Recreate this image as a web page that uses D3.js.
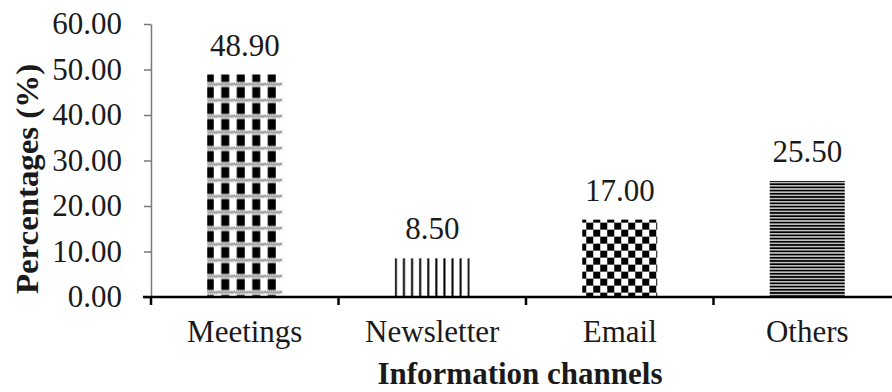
<!DOCTYPE html>
<html>
<head>
<meta charset="utf-8">
<script src="https://cdn.jsdelivr.net/npm/d3@7"></script>
<style>
  body { margin: 0; background: #fff; }
  svg text { font-family: "Liberation Serif", Tinos, "DejaVu Serif", Times, serif; fill: #1a1a1a; }
</style>
</head>
<body>
<div id="chart"></div>
<script>
// data
var categories = ["Meetings", "Newsletter", "Email", "Others"];
var values = [48.90, 8.50, 17.00, 25.50];
var patternNames = ["meet", "news", "mail", "other"];
var yTicks = [0, 10, 20, 30, 40, 50, 60];

var W = 892, H = 392;
var margin = {top: 24, right: -9, bottom: 95, left: 151},
    width = W - margin.left - margin.right,
    height = H - margin.top - margin.bottom;

var svg = d3.select("#chart")
  .append("svg")
    .attr("width", W)
    .attr("height", H)
  .append("g")
    .attr("transform", "translate(" + margin.left + "," + margin.top + ")");

var x = d3.scaleBand()
  .domain(categories)
  .range([0, width])
  .paddingInner(0.6)
  .paddingOuter(0.3);

var y = d3.scaleLinear()
  .domain([0, 60])
  .range([height, 0]);

var data = categories.map(function(c, i) { return {cat: c, value: values[i], pat: patternNames[i]}; });

// fill patterns, anchored to each bar
var defs = svg.append("defs");
data.forEach(function(d) {
  var bx = x(d.cat) + margin.left, by = y(d.value) + margin.top;
  var p = defs.append("pattern")
    .attr("id", "p-" + d.pat)
    .attr("patternUnits", "userSpaceOnUse")
    .attr("x", bx).attr("y", by);
  if (d.pat == "meet") {
    p.attr("width", 15.5).attr("height", 16);
    p.append("rect").attr("width", 15.5).attr("height", 16).attr("fill", "#fff");
    for (var k = 0; k < 8; k++) {
      p.append("rect").attr("x", k * 2).attr("y", 0.5).attr("width", 1.2).attr("height", 1.3).attr("fill", "#444");
      p.append("rect").attr("x", k * 2 + 1).attr("y", 2).attr("width", 1.2).attr("height", 1.3).attr("fill", "#666");
    }
    p.append("rect").attr("x", 2.5).attr("y", 4.5).attr("width", 8).attr("height", 11).attr("fill", "#000");
  } else if (d.pat == "news") {
    p.attr("width", 8.1).attr("height", 10);
    p.append("rect").attr("width", 8.1).attr("height", 10).attr("fill", "#fff");
    p.append("rect").attr("x", 3).attr("y", 0).attr("width", 2).attr("height", 10).attr("fill", "#000");
  } else if (d.pat == "mail") {
    p.attr("width", 14).attr("height", 14);
    p.append("rect").attr("width", 14).attr("height", 14).attr("fill", "#fff");
    p.append("rect").attr("x", 0).attr("y", 0).attr("width", 7).attr("height", 7).attr("fill", "#000");
    p.append("rect").attr("x", 7).attr("y", 7).attr("width", 7).attr("height", 7).attr("fill", "#000");
  } else {
    p.attr("width", 10).attr("height", 3.2);
    p.append("rect").attr("width", 10).attr("height", 3.2).attr("fill", "#fff");
    p.append("rect").attr("x", 0).attr("y", 0.6).attr("width", 10).attr("height", 2).attr("fill", "#000");
  }
});

// bars
svg.selectAll(".bar")
  .data(data)
  .enter()
  .append("rect")
    .attr("class", "bar")
    .attr("x", function(d) { return x(d.cat); })
    .attr("y", function(d) { return y(d.value); })
    .attr("width", x.bandwidth())
    .attr("height", function(d) { return height - y(d.value); })
    .attr("fill", function(d) { return "url(#p-" + d.pat + ")"; });

// value labels
svg.selectAll(".val")
  .data(data)
  .enter()
  .append("text")
    .attr("class", "val")
    .attr("x", function(d) { return x(d.cat) + x.bandwidth() / 2; })
    .attr("y", function(d) { return y(d.value) - 19; })
    .attr("text-anchor", "middle")
    .style("font-size", "31px")
    .text(function(d) { return d.value.toFixed(2); });

// Y axis (grey)
var yAxis = svg.append("g")
  .call(d3.axisLeft(y).tickValues(yTicks).tickSize(7).tickSizeOuter(0).tickPadding(22)
    .tickFormat(d3.format(".2f")));
yAxis.attr("font-family", null);
yAxis.select(".domain").attr("stroke", "#777").attr("stroke-width", 1.5);
yAxis.selectAll(".tick line").attr("stroke", "#777").attr("stroke-width", 1.5);
yAxis.selectAll(".tick text")
  .style("font-size", "31px")
  .attr("fill", "#1a1a1a");

// X axis (black, ticks between categories)
var step = x.step();
var bounds = categories.map(function(c) { return x(c) + x.bandwidth() / 2 - step / 2; });
bounds.push(x(categories[categories.length - 1]) + x.bandwidth() / 2 + step / 2);

var xAxis = svg.append("g")
  .attr("transform", "translate(0," + height + ")");
xAxis.append("line")
  .attr("x1", -8).attr("x2", width)
  .attr("stroke", "#000").attr("stroke-width", 2.5);
xAxis.selectAll(".xt")
  .data(bounds)
  .enter()
  .append("line")
    .attr("x1", function(d) { return d; })
    .attr("x2", function(d) { return d; })
    .attr("y1", 0).attr("y2", 8)
    .attr("stroke", "#000").attr("stroke-width", 2.5);
xAxis.selectAll(".cat")
  .data(categories)
  .enter()
  .append("text")
    .attr("x", function(d) { return x(d) + x.bandwidth() / 2; })
    .attr("y", 45)
    .attr("text-anchor", "middle")
    .style("font-size", "31px")
    .text(function(d) { return d; });

// axis titles
svg.append("text")
  .attr("x", (x.range()[0] + 369))
  .attr("y", height + 87)
  .attr("text-anchor", "middle")
  .style("font-size", "31px")
  .style("font-weight", "bold")
  .text("Information channels");

svg.append("text")
  .attr("transform", "translate(" + (38 - margin.left) + "," + (179 - margin.top) + ") scale(1,1.06) rotate(-90)")
  .attr("text-anchor", "middle")
  .style("font-size", "31px")
  .style("font-weight", "bold")
  .text("Percentages (%)");
</script>
</body>
</html>
